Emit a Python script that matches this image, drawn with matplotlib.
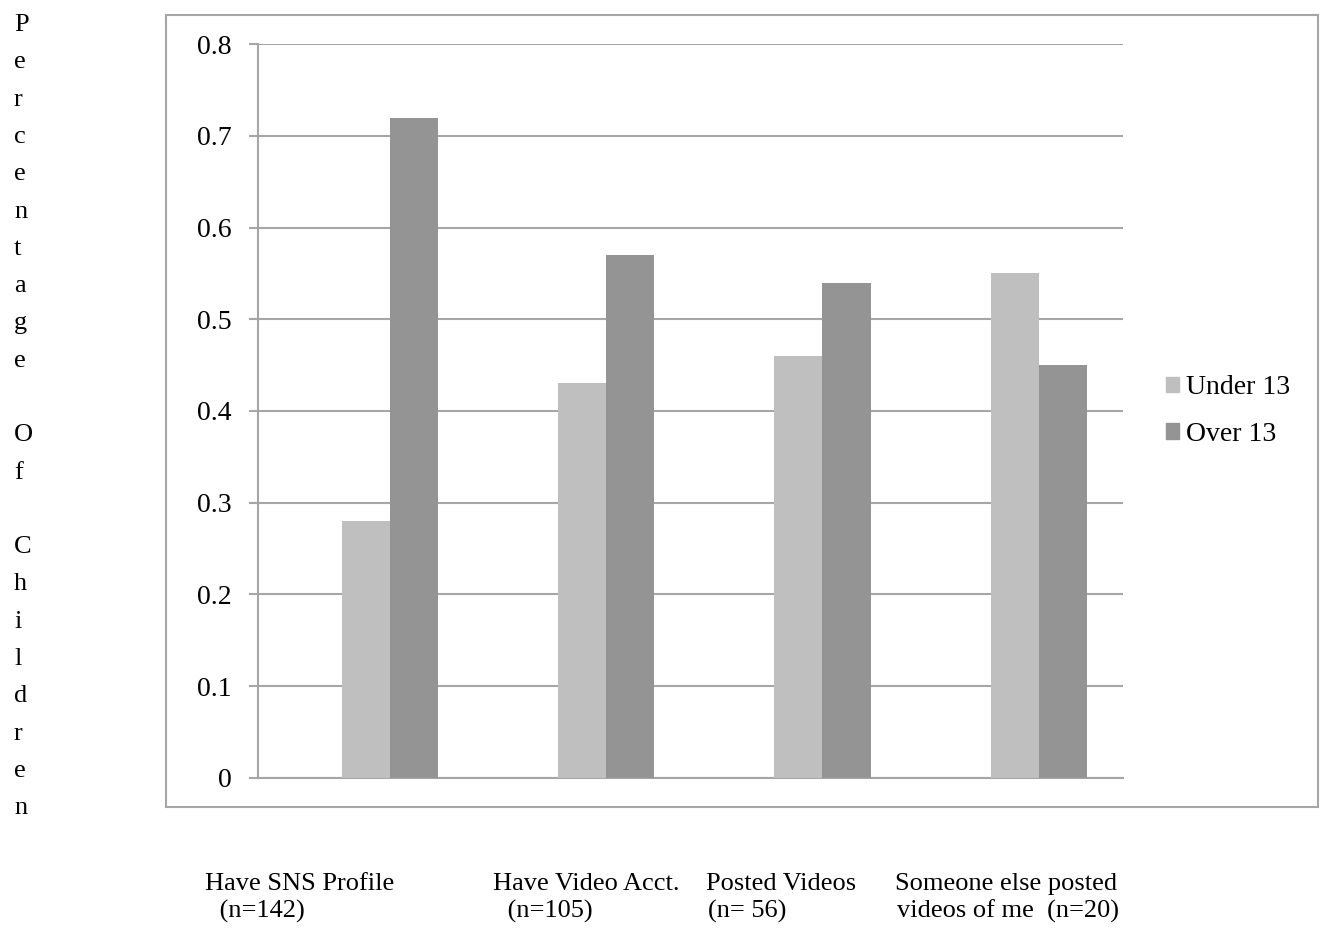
import matplotlib
matplotlib.use("Agg")
import matplotlib.pyplot as plt
from matplotlib.patches import Rectangle, Patch
import numpy as np

# Share of children by age group for each activity
categories = ["Have SNS Profile", "Have Video Acct.", "Posted Videos",
              "Someone else posted"]
sample_sizes = [" (n=142)", " (n=105)", "(n= 56)", "videos of me  (n=20)"]
under_13 = [0.28, 0.43, 0.46, 0.55]
over_13 = [0.72, 0.57, 0.54, 0.45]
series_names = ["Under 13", "Over 13"]
yticks = [0, 0.1, 0.2, 0.3, 0.4, 0.5, 0.6, 0.7, 0.8]

light = "#bfbfbf"
dark = "#949494"
grid_grey = "#a6a6a6"
font = "Liberation Serif"

W, H = 1328, 932
fig = plt.figure(figsize=(W / 100, H / 100), dpi=100)
plt.rcParams["font.family"] = font

# chart frame
fig.patches.append(Rectangle((166 / W, 1 - 807 / H), (1318 - 166) / W,
                             (807 - 15) / H, transform=fig.transFigure,
                             fill=False, edgecolor=grid_grey, linewidth=1.5))

ax = fig.add_axes([257.5 / W, 1 - 777.7 / H, (1123 - 257.5) / W,
                   (777.7 - 44.3) / H])

x = np.arange(len(categories))
w = 1 / 4.5
ax.bar(x, under_13, width=w, color=light, label=series_names[0], zorder=3)
ax.bar(x + w, over_13, width=w, color=dark, label=series_names[1], zorder=3)

ax.set_xlim(-0.5, len(categories) - 0.5)
ax.set_ylim(0, 0.8)
ax.set_yticks(yticks)
ax.set_yticklabels([f"{t:g}" for t in yticks], fontsize=20)
ax.yaxis.grid(True, color=grid_grey, linewidth=1.5, zorder=0)
ax.set_xticks([])
ax.tick_params(axis="y", length=6.5, width=1.5, color=grid_grey, pad=12)
for side in ["top", "right"]:
    ax.spines[side].set_visible(False)
for side in ["left", "bottom"]:
    ax.spines[side].set_color(grid_grey)
    ax.spines[side].set_linewidth(1.5)

handles = [Patch(color=light), Patch(color=dark)]
ax.legend(handles, series_names, loc="center left",
          bbox_to_anchor=(1166 / W, 1 - 411 / H),
          bbox_transform=fig.transFigure, frameon=False, fontsize=20,
          handlelength=0.47, handleheight=0.47, handletextpad=0.26,
          labelspacing=0.78, borderpad=0, borderaxespad=0)

# vertical letter-stacked axis title
fig.text(14 / W, 1 - 14 / H, "\n".join("Percentage Of Children"),
         ha="left", va="top", fontsize=19, linespacing=1.9)

# two-line category captions under the frame
line1_x = [205, 493, 706, 895]
line2_x = [213, 501, 708, 897]
for name, n, x1, x2 in zip(categories, sample_sizes, line1_x, line2_x):
    fig.text(x1 / W, 1 - 890 / H, name, ha="left", va="baseline", fontsize=19)
    fig.text(x2 / W, 1 - 918 / H, n, ha="left", va="baseline", fontsize=19)

fig.savefig("out.png", dpi=100)
